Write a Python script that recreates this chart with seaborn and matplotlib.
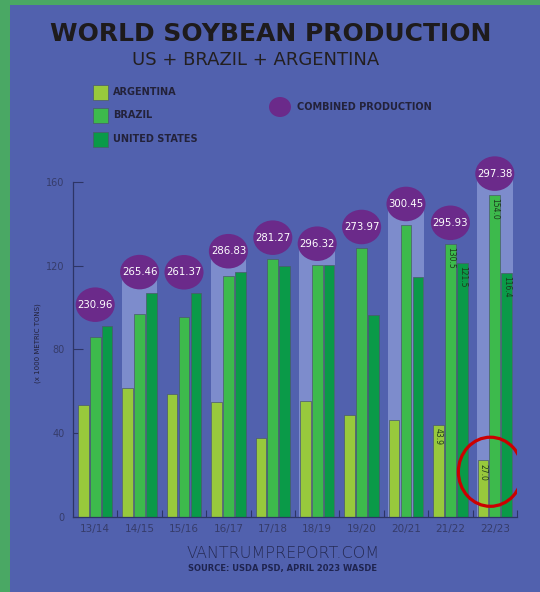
import pandas as pd
import numpy as np
import matplotlib
matplotlib.use('Agg')
import matplotlib.pyplot as plt
from matplotlib.patches import Ellipse, Rectangle
import seaborn as sns

# dados (milhões de toneladas)
seasons = ['13/14', '14/15', '15/16', '16/17', '17/18', '18/19', '19/20', '20/21', '21/22', '22/23']
argentina = [53.4, 61.4, 58.8, 55.0, 37.8, 55.3, 48.8, 46.2, 43.9, 27.0]
brazil = [86.2, 97.1, 95.7, 114.9, 123.4, 120.5, 128.5, 139.5, 130.5, 154.0]
united_states = [91.4, 106.96, 106.87, 116.93, 120.07, 120.52, 96.67, 114.75, 121.53, 116.38]
combined = ['230.96', '265.46', '261.37', '286.83', '281.27', '296.32', '273.97', '300.45', '295.93', '297.38']
countries = ['ARGENTINA', 'BRAZIL', 'UNITED STATES']
labeled_seasons = ['21/22', '22/23']

# cores
bg = '#5161ae'
band_color = '#7d8ccc'
purple = '#6b2a8a'
colors = {'ARGENTINA': '#98c93c', 'BRAZIL': '#3dba4c', 'UNITED STATES': '#0a9a48'}
dark = '#23223a'
axis_color = '#2d3566'

df = pd.DataFrame({
    'season': seasons * 3,
    'country': [c for c in countries for _ in seasons],
    'value': argentina + brazil + united_states,
})

sns.set_style('ticks')
fig = plt.figure(figsize=(5.4, 5.92), dpi=100, facecolor=bg)
ax = fig.add_axes([0.1352, 0.1267, 0.8222, 0.6225])
ax.set_facecolor(bg)

# faixas claras alternadas atrás dos grupos
tops = [max(a, b, u) + 10 for a, b, u in zip(argentina, brazil, united_states)]
band = [t if i % 2 == 1 else 0 for i, t in enumerate(tops)]
sns.barplot(x=seasons, y=band, order=seasons, color=band_color, saturation=1,
            width=0.8, linewidth=0, ax=ax)

sns.barplot(data=df, x='season', y='value', hue='country', order=seasons,
            hue_order=countries, palette=colors, saturation=1, width=0.8, gap=0.1,
            edgecolor='#4a5a6a', linewidth=0.5, errorbar=None, legend=False, ax=ax)

# elipses com produção combinada
for i, (t, lab) in enumerate(zip(tops, combined)):
    ax.add_patch(Ellipse((i, t), 0.88, 16.5, facecolor=purple, edgecolor='none', zorder=5))
    ax.text(i, t, lab, ha='center', va='center', color='white', fontsize=7.3, zorder=6)

# rótulos dentro das barras
offsets = [-0.2667, 0.0, 0.2667]
for s in labeled_seasons:
    i = seasons.index(s)
    for off, vals in zip(offsets, [argentina, brazil, united_states]):
        ax.text(i + off, vals[i] - 1.5, f'{vals[i]:.1f}', rotation=270, ha='center', va='top',
                fontsize=5.5, color='#1d3a1d', zorder=6)

# destaque vermelho
k = seasons.index('22/23')
ax.add_patch(Ellipse((k - 0.1, argentina[k] * 0.8), 1.44, 33, facecolor='none',
                     edgecolor='#cc0000', linewidth=2.3, zorder=7))

ax.set_xlim(-0.5, 9.5)
ax.set_ylim(0, 176)
ax.set_yticks([0, 40, 80, 120, 160])
ax.set_xticks(range(len(seasons)))
ax.set_xticklabels(seasons)
ax.set_xticks(np.arange(0.5, 10, 1), minor=True)
ax.set_xlabel('')
ax.set_ylabel('')
for side in ['top', 'right']:
    ax.spines[side].set_visible(False)
ax.spines['left'].set_bounds(0, 160)
ax.spines['left'].set_color(axis_color)
ax.spines['bottom'].set_color(axis_color)
ax.spines['left'].set_linewidth(0.9)
ax.spines['bottom'].set_linewidth(0.9)
ax.tick_params(axis='y', direction='in', length=7, width=0.8, color=axis_color,
               labelcolor='#363c6a', labelsize=7, pad=6)
ax.tick_params(axis='x', which='major', length=0, labelcolor='#363c6a', labelsize=7.5, pad=5)
ax.tick_params(axis='x', which='minor', direction='in', length=5, width=0.8, color=axis_color)

fig.text(0.07, 0.42, '(x 1000 METRIC TONS)', rotation=90, ha='center', va='center',
         fontsize=5, color=dark)

# títulos
fig.text(0.502, 0.9426, 'WORLD SOYBEAN PRODUCTION', ha='center', va='center',
         fontsize=18, fontweight='heavy', color='#1e1b1c')
fig.text(0.474, 0.8986, 'US + BRAZIL + ARGENTINA', ha='center', va='center',
         fontsize=13, color='#231f20')

# legenda
for j, c in enumerate(countries):
    yc = 1 - (92 + j * 23.5) / 592
    fig.add_artist(Rectangle((92.7 / 540, yc - 7.5 / 592), 15 / 540, 15 / 592,
                             transform=fig.transFigure, facecolor=colors[c],
                             edgecolor='#4a5a6a', linewidth=0.5))
    fig.text(113 / 540, yc, c, ha='left', va='center', fontsize=7, fontweight='bold', color=dark)
fig.add_artist(Ellipse((280 / 540, 1 - 107 / 592), 22 / 540, 20 / 592,
                       transform=fig.transFigure, facecolor=purple, edgecolor='none'))
fig.text(297 / 540, 1 - 107 / 592, 'COMBINED PRODUCTION', ha='left', va='center',
         fontsize=7, fontweight='bold', color=dark)

# rodapé
fig.text(283 / 540, 1 - 554 / 592, 'VANTRUMPREPORT.COM', ha='center', va='center',
         fontsize=11.5, fontweight='light', color='#262b55')
fig.text(283 / 540, 1 - 569 / 592, 'SOURCE: USDA PSD, APRIL 2023 WASDE', ha='center',
         va='center', fontsize=6, fontweight='bold', color='#1f2450')

# bordas verdes
fig.add_artist(Rectangle((0, 0), 10 / 540, 1, transform=fig.transFigure,
                         facecolor='#4aa864', edgecolor='none'))
fig.add_artist(Rectangle((0, 1 - 5 / 592), 1, 5 / 592, transform=fig.transFigure,
                         facecolor='#4aa864', edgecolor='none'))

fig.savefig('out.png', dpi=100, facecolor=bg)
